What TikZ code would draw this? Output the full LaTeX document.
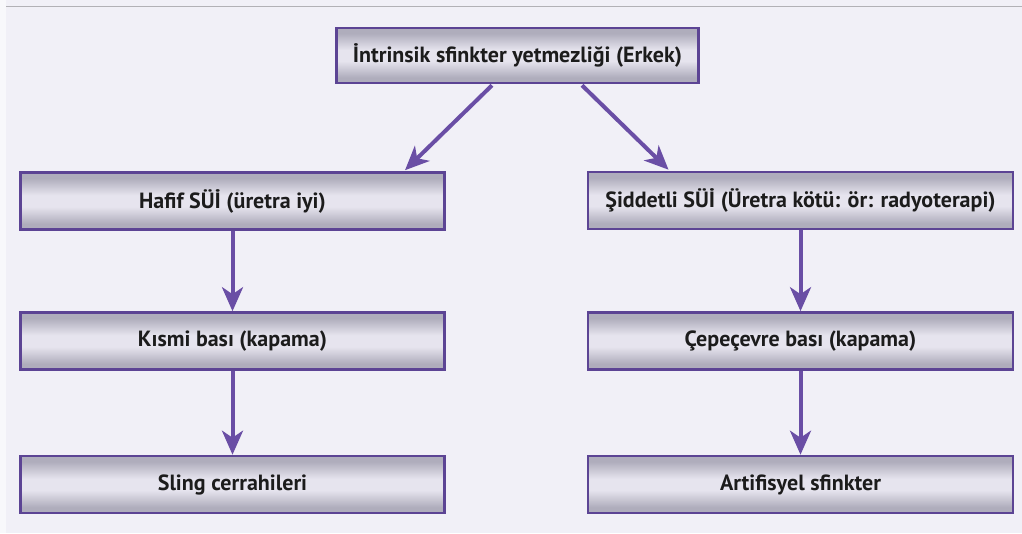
\documentclass[tikz,border=0pt]{standalone}
\usepackage{fontspec}
\setmainfont{PT Sans}
\usetikzlibrary{arrows.meta}
\definecolor{bgcol}{HTML}{F1F0F7}
\definecolor{stripcol}{HTML}{F8F8FB}
\definecolor{linecol}{HTML}{B2B1B6}
\definecolor{boxborder}{HTML}{5C4494}
\definecolor{arrcol}{HTML}{6A4EA5}
\definecolor{boxdark}{HTML}{AFADBC}
\definecolor{boxlight}{HTML}{E6E4EE}
\definecolor{txtcol}{HTML}{1C1C1C}
\pgfdeclareverticalshading{boxshade}{100bp}{color(0bp)=(boxdark); color(30bp)=(boxdark); color(45bp)=(boxlight); color(55bp)=(boxlight); color(70bp)=(boxdark); color(100bp)=(boxdark)}
\tikzset{
  fbox/.style={rectangle, draw=boxborder, line width=2.6pt, shading=boxshade,
    text=txtcol, font=\bfseries\fontsize{22}{26}\selectfont, inner sep=0pt},
  leftbox/.style={fbox, minimum width=424pt, minimum height=57pt},
  rightbox/.style={fbox, minimum width=425pt, minimum height=57pt},
  arr/.style={draw=arrcol, line width=4pt, -{Stealth[length=24pt,width=21pt,inset=7pt]}}
}
\begin{document}
\begin{tikzpicture}[x=1pt,y=-1pt]
\useasboundingbox (0,0) rectangle (1022,533);
\fill[stripcol] (0,0) rectangle (1022,533);
\fill[bgcol] (6,0) rectangle (1022,533);
\draw[linecol, line width=1.6pt] (6,6.5) -- (1022,6.5);

\node[fbox, minimum width=362pt, minimum height=55pt] (top) at (517.5,55.5) {İntrinsik sfinkter yetmezliği (Erkek)};

\node[leftbox] (hafif) at (232.5,201) {Hafif SÜİ (üretra iyi)};
\node[leftbox] (kismi) at (232.5,341) {Kısmi bası (kapama)};
\node[leftbox] (sling) at (232.5,484.5) {Sling cerrahileri};

\node[rightbox] (sid) at (800.5,200.5) {Şiddetli SÜİ (Üretra kötü: ör: radyoterapi)};
\node[rightbox] (cep) at (800.5,341) {Çepeçevre bası (kapama)};
\node[rightbox] (art) at (800.5,484.5) {Artifisyel sfinkter};

\draw[arr] ([xshift=-25.5pt,yshift=-1pt]top.south) -- ([xshift=172.5pt,yshift=1pt]hafif.north);
\draw[arr] ([xshift=64.5pt,yshift=-1pt]top.south) -- ([xshift=-132pt,yshift=1pt]sid.north);
\draw[arr] (hafif.south) -- (kismi.north);
\draw[arr] (kismi.south) -- (sling.north);
\draw[arr] (sid.south) -- (cep.north);
\draw[arr] (cep.south) -- (art.north);
\end{tikzpicture}
\end{document}
